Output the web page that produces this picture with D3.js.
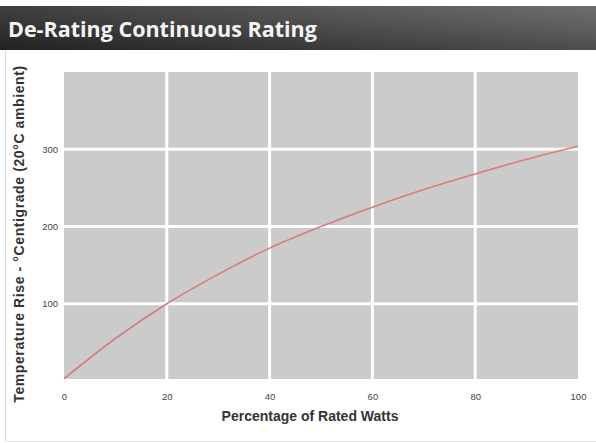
<!DOCTYPE html>
<html>
<head>
<meta charset="utf-8">
<script src="https://cdn.jsdelivr.net/npm/d3@7"></script>
<style>
  body { margin: 0; background: #fff; }
  svg { display: block; }
</style>
</head>
<body>
<svg width="596" height="443"></svg>
<script>
// curve
let watts = [0, 10, 20, 30, 40, 50, 60, 70, 80, 90, 100];
let rise = [3, 55, 100, 138, 172, 200, 225, 248, 268, 287, 304];
let xTicks = [0, 20, 40, 60, 80, 100];
let yTicks = [100, 200, 300];

document.addEventListener('DOMContentLoaded', function() {
    let svg = d3.select('svg');

    // title bar
    let grad = svg.append('defs').append('linearGradient')
        .attr('id', 'bar').attr('x1', 0).attr('x2', 1).attr('y1', 0).attr('y2', 0);
    grad.append('stop').attr('offset', '0%').attr('stop-color', '#262626');
    grad.append('stop').attr('offset', '100%').attr('stop-color', '#5a5a5a');
    let grad2 = svg.select('defs').append('linearGradient')
        .attr('id', 'shine').attr('x1', 0).attr('x2', 0).attr('y1', 0).attr('y2', 1);
    grad2.append('stop').attr('offset', '0%').attr('stop-color', '#fff').attr('stop-opacity', 0.12);
    grad2.append('stop').attr('offset', '100%').attr('stop-color', '#000').attr('stop-opacity', 0.15);

    svg.append('rect').attr('x', 0).attr('y', 6).attr('width', 596).attr('height', 44)
        .attr('fill', 'url(#bar)');
    svg.append('rect').attr('x', 0).attr('y', 6).attr('width', 596).attr('height', 44)
        .attr('fill', 'url(#shine)');
    svg.append('text').attr('x', 8).attr('y', 37)
        .attr('fill', '#f4f4f4')
        .style('font-family', 'Open Sans, DejaVu Sans, sans-serif')
        .style('font-weight', 'bold')
        .style('font-size', '21.5px')
        .text('De-Rating Continuous Rating');

    // panel frame
    svg.append('line').attr('x1', 5.5).attr('x2', 5.5).attr('y1', 50).attr('y2', 441)
        .attr('stroke', '#d8d8d8');
    svg.append('line').attr('x1', 5).attr('x2', 596).attr('y1', 441.5).attr('y2', 441.5)
        .attr('stroke', '#e4e4e4');

    let left = 64, right = 578, top = 72, bottom = 381;
    let x = d3.scaleLinear().domain([0, 100]).range([left, right]);
    let y = d3.scaleLinear().domain([0, 400]).range([bottom, top]);

    svg.append('rect')
        .attr('x', left).attr('y', top)
        .attr('width', right - left).attr('height', bottom - top - 2)
        .attr('fill', '#cbcbcb');

    // grid
    let g = svg.append('g').attr('class', 'grid');
    g.selectAll('line.v')
        .data(xTicks.filter(d => d > 0 && d < 100))
        .join('line').attr('class', 'v')
        .attr('x1', d => x(d)).attr('x2', d => x(d))
        .attr('y1', top).attr('y2', bottom)
        .attr('stroke', '#fff').attr('stroke-width', 3);
    g.selectAll('line.h')
        .data(yTicks)
        .join('line').attr('class', 'h')
        .attr('x1', left).attr('x2', right)
        .attr('y1', d => y(d)).attr('y2', d => y(d))
        .attr('stroke', '#fff').attr('stroke-width', 3);

    // curve
    let line = d3.line()
        .x((d, i) => x(watts[i]))
        .y(d => y(d))
        .curve(d3.curveMonotoneX);
    svg.append('path')
        .datum(rise)
        .attr('d', line)
        .attr('fill', 'none')
        .attr('stroke', '#d97b7c')
        .attr('stroke-width', 1.6);

    // axes
    let tickFont = 'Liberation Sans, Arial, sans-serif';
    let xAxis = svg.append('g')
        .attr('transform', 'translate(0,' + (bottom + 6) + ')')
        .call(d3.axisBottom(x).tickValues(xTicks).tickSize(0).tickPadding(6));
    xAxis.select('.domain').remove();
    xAxis.selectAll('text')
        .attr('fill', '#444')
        .style('font-family', tickFont)
        .style('font-size', '9.5px');

    let yAxis = svg.append('g')
        .attr('transform', 'translate(' + (left - 4) + ',0)')
        .call(d3.axisLeft(y).tickValues(yTicks).tickSize(0).tickPadding(2));
    yAxis.select('.domain').remove();
    yAxis.selectAll('text')
        .attr('fill', '#444')
        .style('font-family', tickFont)
        .style('font-size', '9.5px');

    // axis titles
    svg.append('text')
        .attr('x', 310).attr('y', 421)
        .attr('text-anchor', 'middle')
        .attr('fill', '#333')
        .style('font-family', tickFont)
        .style('font-weight', 'bold')
        .style('font-size', '14px')
        .text('Percentage of Rated Watts');

    svg.append('text')
        .attr('transform', 'translate(24,' + 234 + ') rotate(-90)')
        .attr('text-anchor', 'middle')
        .attr('fill', '#333')
        .style('font-family', tickFont)
        .style('font-weight', 'bold')
        .style('font-size', '14px')
        .style('letter-spacing', '0.6px')
        .text('Temperature Rise - °Centigrade (20°C ambient)');
});
</script>
</body>
</html>
